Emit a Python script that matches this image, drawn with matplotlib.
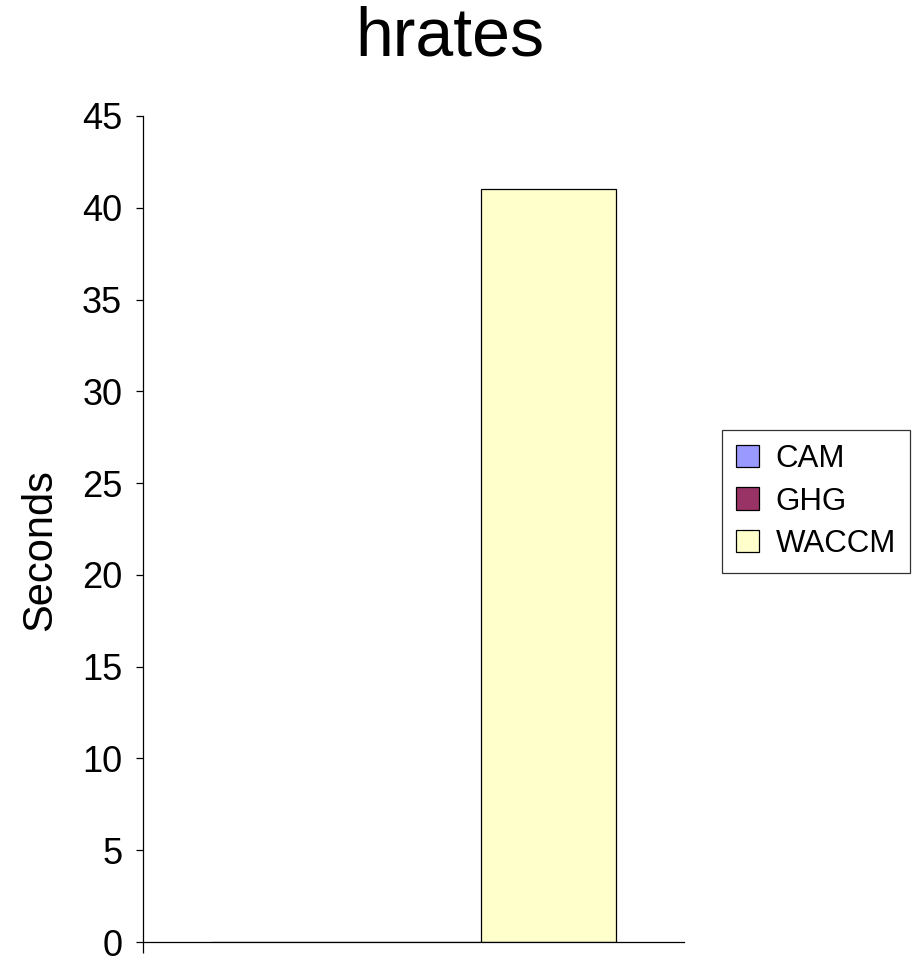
import numpy as np
import matplotlib.pyplot as plt
from matplotlib.patches import Patch

plt.rcParams['font.family'] = ['Liberation Sans', 'DejaVu Sans']

# Data
series = ['CAM', 'GHG', 'WACCM']
seconds = [0, 0, 41]
colors = ['#9999FF', '#993366', '#FFFFCC']
yticks = [0, 5, 10, 15, 20, 25, 30, 35, 40, 45]

fig = plt.figure(figsize=(9.17, 9.58), dpi=100)
ax = fig.add_axes([143/917, 16/958, 541/917, 826/958])

# One category, three bars side by side
width = 0.25
x = np.arange(len(series)) * width - width
for xi, val, c in zip(x, seconds, colors):
    ax.bar(xi, val, width=width, color=c, edgecolor='black', linewidth=0.9)

ax.set_xlim(-0.5, 0.5)
ax.set_ylim(0, 45)
ax.set_yticks(yticks)
ax.tick_params(axis='y', labelsize=26, length=5, width=0.9, pad=10, direction='out')
ax.set_xticks([-0.5])
ax.set_xticklabels([''])
ax.tick_params(axis='x', length=8, width=0.9, direction='out')
for s in ['top', 'right']:
    ax.spines[s].set_visible(False)
for s in ['left', 'bottom']:
    ax.spines[s].set_linewidth(0.9)

fig.text(0.491, 1 - 56/958, 'hrates', fontsize=49, ha='center', va='baseline')
fig.text(40/917, 1 - 550/958, 'Seconds', fontsize=30, rotation=90,
         ha='center', va='center')

handles = [Patch(facecolor=c, edgecolor='black', linewidth=0.9) for c in colors]
leg = fig.legend(handles, series, loc='center left',
                 bbox_to_anchor=(722/917, 1 - 501.5/958),
                 bbox_transform=fig.transFigure, fontsize=22.5,
                 frameon=True, fancybox=False, edgecolor='black',
                 handlelength=0.72, handleheight=0.72, handletextpad=0.55,
                 labelspacing=0.4, borderpad=0.45, borderaxespad=0)
leg.get_frame().set_linewidth(0.9)

plt.savefig('out.png', dpi=100)
